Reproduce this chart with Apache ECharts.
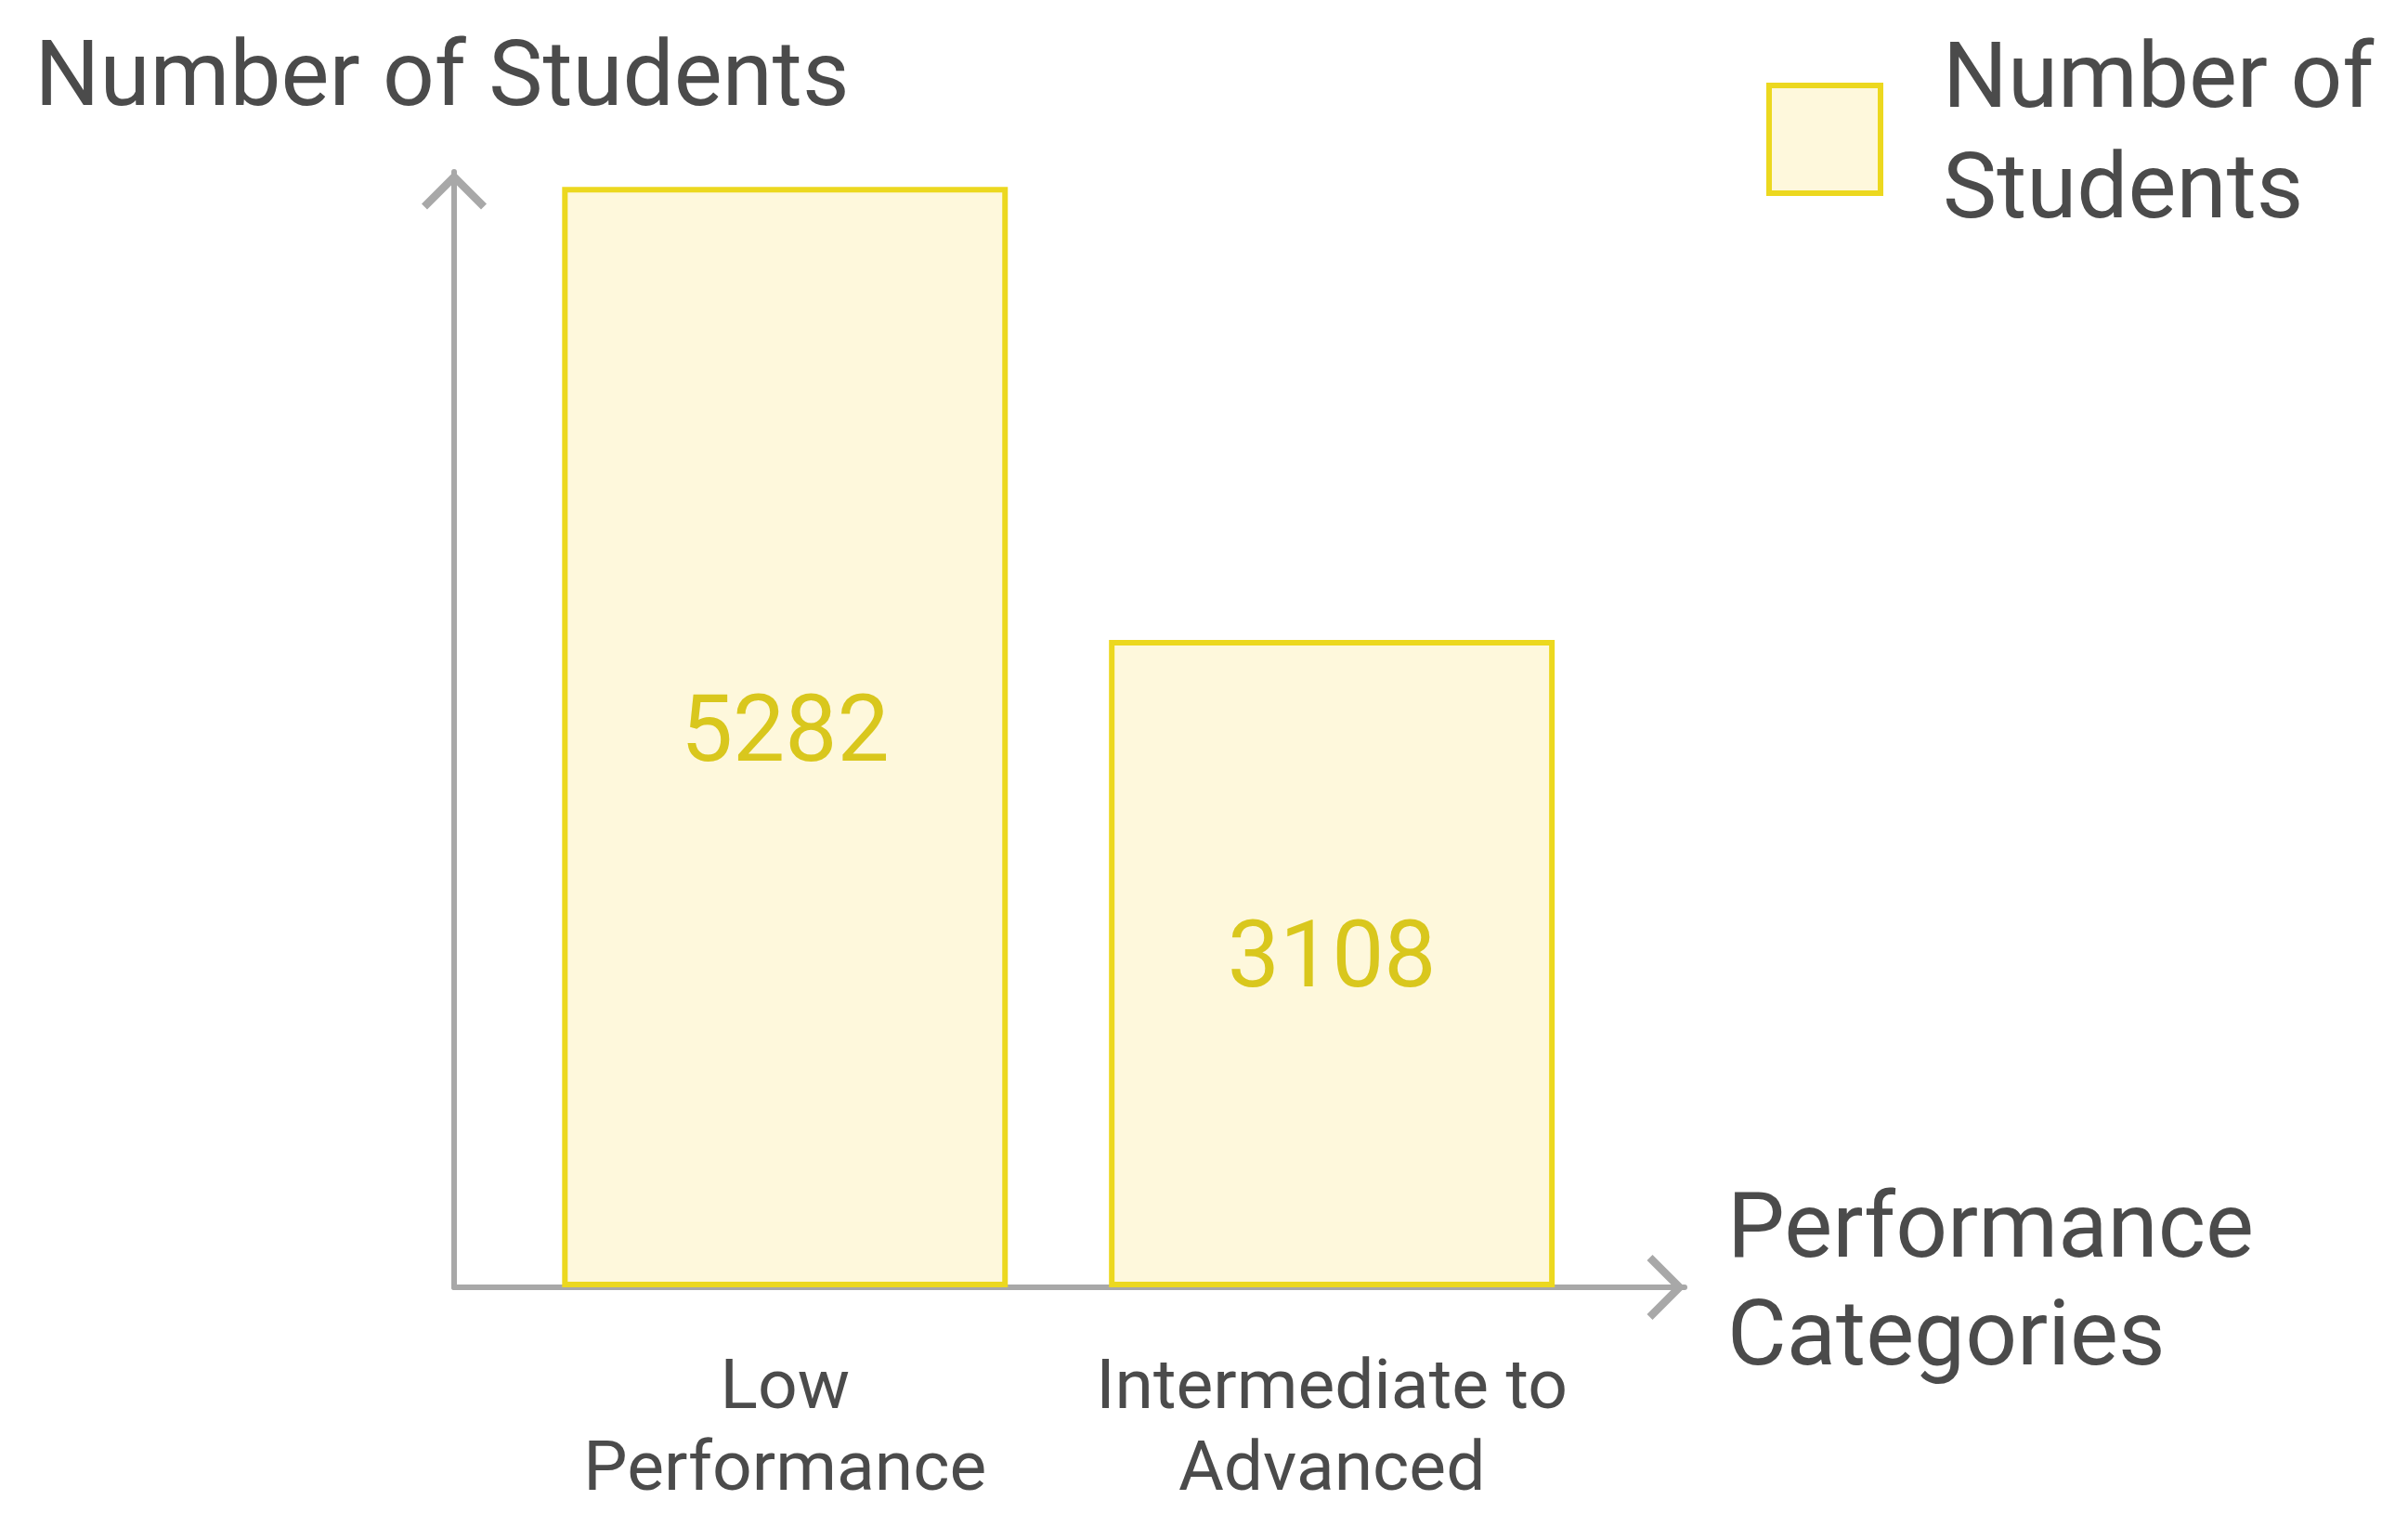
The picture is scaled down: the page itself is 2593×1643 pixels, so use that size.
<!DOCTYPE html>
<html>

<head>
    <meta charset="utf-8">
    <title>Number of Students</title>
    <script src="https://cdn.jsdelivr.net/npm/echarts@6/dist/echarts.min.js"></script>
    <style>
        html, body { margin: 0; padding: 0; background: #fff; }
        #main { width: 2593px; height: 1643px; }
    </style>
</head>

<body>
    <div id="main"></div>

    <script type="text/javascript">

        // data
        var categories = ['Low\nPerformance', 'Intermediate to\nAdvanced'];
        var values = [5282, 3108];
        var seriesName = 'Number of Students';
        var yAxisName = 'Number of Students';
        var xAxisName = 'Performance\nCategories';

        var TEXT = '#4b4b4b';
        var AXIS = '#a8a8a8';
        var FILL = '#fef8dc';
        var BORDER = '#ecd81f';
        var LABEL = '#d9c71d';
        var FONT = 'Roboto';

        // open chevron, pointing up (gets rotated by the axis)
        var chevron = 'path://M0,35 L35,0 L70,35 L64,41 L35,12 L6,41 Z';

        var chart = echarts.init(document.getElementById('main'));

        var option = {
            animation: false,
            backgroundColor: '#fff',
            textStyle: { fontFamily: FONT },
            grid: {
                left: 489,
                right: 779,
                top: 185,
                bottom: 257,
                containLabel: false,
                outerBoundsMode: 'none'
            },
            legend: {
                left: 1902,
                top: 31,
                padding: 0,
                icon: 'rect',
                itemWidth: 120,
                itemHeight: 116,
                itemStyle: { borderWidth: 6, borderColor: BORDER, color: FILL },
                formatter: function (name) { return name.replace(' of ', ' of\n'); },
                textStyle: {
                    fontFamily: FONT,
                    fontSize: 98,
                    lineHeight: 119,
                    color: TEXT,
                    padding: [0, 0, 0, 62]
                }
            },
            xAxis: {
                type: 'value',
                min: -0.605,
                max: 1.645,
                name: xAxisName,
                nameLocation: 'end',
                nameGap: 46,
                nameTextStyle: {
                    fontFamily: FONT, fontSize: 98, lineHeight: 116, color: TEXT,
                    align: 'left', verticalAlign: 'middle', padding: [10, 0, 0, 0]
                },
                splitLine: { show: false },
                axisTick: { show: false },
                axisLine: {
                    show: true,
                    onZero: false,
                    symbol: ['none', chevron],
                    symbolSize: [70, 41],
                    symbolOffset: [0, -20],
                    lineStyle: { color: AXIS, width: 6 }
                },
                axisLabel: {
                    customValues: categories.map(function (c, i) { return i; }),
                    formatter: function (v) {
                        return Number.isInteger(v) && categories[v] !== undefined ? categories[v] : '';
                    },
                    margin: 67,
                    fontFamily: FONT,
                    fontSize: 75,
                    lineHeight: 88,
                    color: TEXT,
                    align: 'center'
                }
            },
            yAxis: {
                type: 'value',
                min: 0,
                max: 5355,
                name: yAxisName,
                nameLocation: 'end',
                nameGap: 42,
                nameTextStyle: {
                    fontFamily: FONT, fontSize: 98, lineHeight: 110, color: TEXT,
                    padding: [0, 26, 0, 0]
                },
                splitLine: { show: false },
                axisTick: { show: false },
                axisLabel: { show: false },
                axisLine: {
                    show: true,
                    onZero: false,
                    symbol: ['none', chevron],
                    symbolSize: [70, 41],
                    symbolOffset: [0, -20],
                    lineStyle: { color: AXIS, width: 6 }
                }
            },
            series: [{
                name: seriesName,
                type: 'bar',
                barWidth: '81.5%',
                data: values.map(function (v, i) { return [i, v]; }),
                itemStyle: { color: FILL, borderColor: BORDER, borderWidth: 6 },
                label: {
                    show: true,
                    position: 'inside',
                    formatter: function (p) { return p.value[1]; },
                    fontFamily: FONT,
                    fontSize: 100,
                    color: LABEL
                },
                z: 1
            }]
        };

        chart.setOption(option);

    </script>
</body>

</html>
